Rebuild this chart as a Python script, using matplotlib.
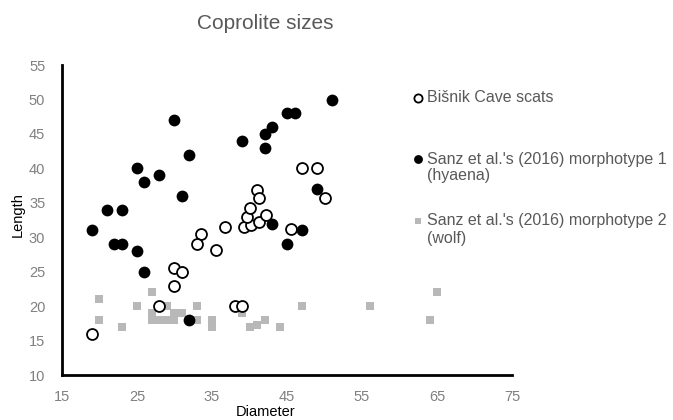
import matplotlib.pyplot as plt
from matplotlib import font_manager

plt.rcParams['font.family'] = ['Liberation Sans', 'DejaVu Sans']
names = {f.name for f in font_manager.fontManager.ttflist}
narrow = 'Liberation Sans Narrow' if 'Liberation Sans Narrow' in names else 'Liberation Sans'

# Bišnik Cave scats (open circles)
bisnik_d = [19, 28, 30, 30, 31, 33.5, 33, 35.5, 36.7, 38, 39, 39.3, 40.2, 41.3,
            39.7, 42.2, 40, 41, 41.3, 45.5, 47, 49, 50]
bisnik_l = [16, 20, 23, 25.5, 25, 30.5, 29, 28.2, 31.5, 20, 20, 31.5, 31.8, 32.2,
            33, 33.3, 34.2, 36.8, 35.7, 31.2, 40, 40, 35.7]

# Sanz et al. morphotype 1 (hyaena)
m1_d = [19, 21, 23, 22, 23, 25, 26, 28, 25, 26, 30, 32, 31, 31, 32, 39, 42, 43,
        42, 45, 46, 51, 49, 43, 47, 45]
m1_l = [31, 34, 34, 29, 29, 40, 38, 39, 28, 25, 47, 42, 36, 25, 18, 44, 45, 46,
        43, 48, 48, 50, 37, 32, 31, 29]

# Sanz et al. morphotype 2 (wolf)
m2_d = [20, 20, 23, 25, 27, 29, 27, 27, 28, 29, 30, 30, 31, 33, 33, 35, 35, 39,
        40, 41, 42, 44, 47, 56, 65, 64]
m2_l = [21, 18, 17, 20, 22, 20, 18, 19, 18, 18, 18, 19, 19, 20, 18, 18, 17, 19,
        17, 17.3, 18, 17, 20, 20, 22, 18]

labels = ["Bišnik Cave scats",
          "Sanz et al.'s (2016) morphotype 1",
          "Sanz et al.'s (2016) morphotype 2"]
second_lines = ["(hyaena)", "(wolf)"]

fig = plt.figure(figsize=(6.73, 4.2), dpi=100)
ax = fig.add_axes([0.092, 0.107, 0.669, 0.738])

ax.scatter(m2_d, m2_l, marker='s', s=40, color='#b8b8b8', linewidths=0,
           label=labels[2], zorder=2)
ax.scatter(m1_d, m1_l, marker='o', s=72, color='black', linewidths=0,
           label=labels[1], zorder=3)
ax.scatter(bisnik_d, bisnik_l, marker='o', s=62, facecolor='white',
           edgecolor='black', linewidths=1.3, label=labels[0], zorder=4)

ax.set_xlim(15, 75)
ax.set_ylim(10, 55)
ax.set_xticks(range(15, 76, 10))
ax.set_yticks(range(10, 56, 5))
ax.tick_params(length=0, labelsize=10.5, colors='#808080')
ax.tick_params(axis='x', pad=11)
ax.tick_params(axis='y', pad=12)
for t in ax.get_xticklabels() + ax.get_yticklabels():
    t.set_family([narrow, 'DejaVu Sans'])
for s in ['top', 'right']:
    ax.spines[s].set_visible(False)
for s in ['left', 'bottom']:
    ax.spines[s].set_linewidth(2)
    ax.spines[s].set_color('black')

fig.text(0.394, 0.945, "Coprolite sizes", ha='center', va='center',
         fontsize=15, color='#595959')
fig.text(0.394, 0.018, "Diameter", ha='center', va='center', fontsize=10.5)
fig.text(0.027, 0.49, "Length", ha='center', va='center', fontsize=10.5,
         rotation=90)

h, l = ax.get_legend_handles_labels()
leg = fig.legend(h[::-1], l[::-1], loc='upper left', bbox_to_anchor=(0.609, 0.785),
                 frameon=False, fontsize=11.5, labelspacing=2.9, handletextpad=0.1,
                 handlelength=1.0, borderaxespad=0, borderpad=0, markerscale=0.75)
for t in leg.get_texts():
    t.set_color('#595959')

fig.text(0.634, 0.581, second_lines[0], ha='left', va='center', fontsize=11.5,
         color='#595959')
fig.text(0.634, 0.433, second_lines[1], ha='left', va='center', fontsize=11.5,
         color='#595959')

fig.savefig('out.png', dpi=100)
